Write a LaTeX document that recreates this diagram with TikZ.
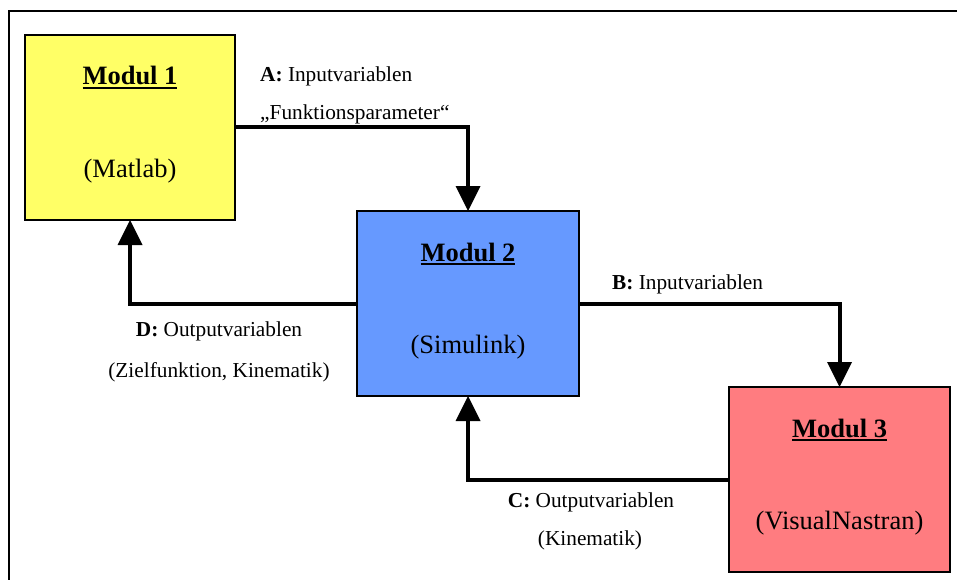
\documentclass[tikz,border=0pt]{standalone}
\usepackage{fontspec}
\setmainfont{Liberation Serif}
\usetikzlibrary{arrows.meta}
\definecolor{myyellow}{HTML}{FFFF66}
\definecolor{myblue}{HTML}{6699FF}
\definecolor{myred}{HTML}{FF7C80}
\newcommand\myul[1]{\setbox0\hbox{#1}\rlap{\vrule height -1.6pt depth 4.4pt width \wd0}\box0}
\tikzset{
  modbox/.style={draw=black, line width=2pt, rectangle, minimum height=185pt, inner sep=0pt, outer sep=0pt},
  titletext/.style={anchor=base, inner sep=0pt, font=\fontsize{26.5}{30}\selectfont\bfseries},
  subtext/.style={anchor=base, inner sep=0pt, font=\fontsize{26.5}{30}\selectfont},
  labeltext/.style={inner sep=0pt, font=\fontsize{21.3}{24}\selectfont},
  flow/.style={line width=4pt, -{Triangle[length=25pt,width=25pt,line width=0pt]}}
}
\begin{document}
\begin{tikzpicture}[x=1pt,y=-1pt]
\useasboundingbox (0,0) rectangle (957,580);
\clip (0,0) rectangle (957,580);
\draw[line width=1.8pt] (9,590) -- (9,11) -- (970,11);

\node[modbox, fill=myyellow, minimum width=210pt] (m1) at (130,127.5) {};
\node[modbox, fill=myblue, minimum width=222pt] (m2) at (468,303.5) {};
\node[modbox, fill=myred, minimum width=221pt] (m3) at (839.5,479.5) {};

\node[titletext] (t1) at ([yshift=-50pt]m1.north) {\myul{Modul 1}};
\node[subtext] (s1) at ([yshift=-142pt]m1.north) {(Matlab)};
\node[titletext] (t2) at ([yshift=-50pt]m2.north) {\myul{Modul 2}};
\node[subtext] (s2) at ([yshift=-142pt]m2.north) {(Simulink)};
\node[titletext] (t3) at ([yshift=-50pt]m3.north) {\myul{Modul 3}};
\node[subtext] (s3) at ([yshift=-142pt]m3.north) {(VisualNastran)};

\draw[flow] (m1.east) -| (m2.north);
\draw[flow] (m2.west) -| (m1.south);
\draw[flow] (m2.east) -| (m3.north);
\draw[flow] (m3.west) -| (m2.south);

\node[labeltext, anchor=base west] (la1) at (260,81.7) {\textbf{A:} Inputvariablen};
\node[labeltext, anchor=base west] (la2) at (260,120) {„Funktionsparameter“};
\node[labeltext, anchor=base west] (lb1) at (612,289) {\textbf{B:} Inputvariablen};
\node[labeltext, anchor=base] (ld1) at (219,336) {\textbf{D:} Outputvariablen};
\node[labeltext, anchor=base] (ld2) at (219,377) {(Zielfunktion, Kinematik)};
\node[labeltext, anchor=base] (lc1) at (591,507) {\textbf{C:} Outputvariablen};
\node[labeltext, anchor=base] (lc2) at (590,545) {(Kinematik)};
\end{tikzpicture}
\end{document}
